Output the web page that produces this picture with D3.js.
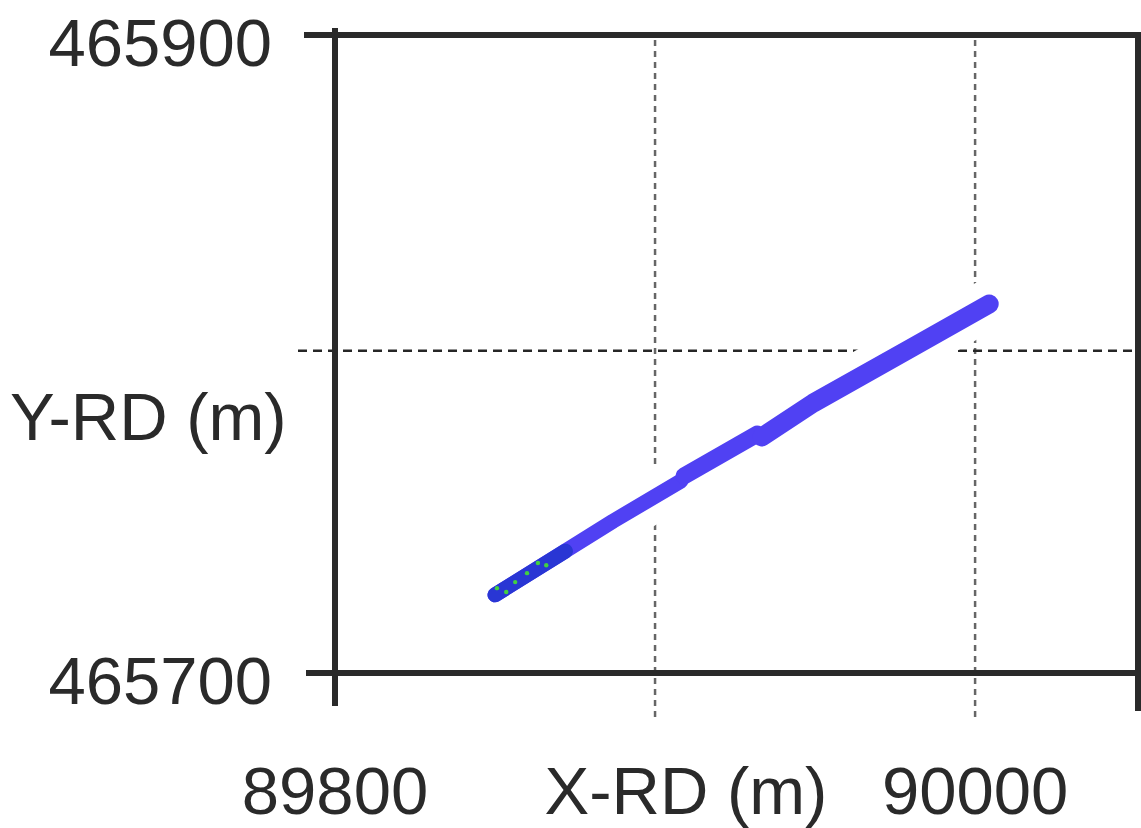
<!DOCTYPE html>
<html>
<head>
<meta charset="utf-8">
<script src="https://cdn.jsdelivr.net/npm/d3@7"></script>
<style>
  html, body { margin: 0; padding: 0; background: #fff; }
  svg { display: block; font-family: "Liberation Sans", Arial, sans-serif; }
</style>
</head>
<body>
<script>
// tick values and grid positions (m, RD coordinates)
const xTicks = [89800, 90000];
const yTicks = [465700, 465900];
const xGrid = [89900, 90000];
const yGrid = [465801];

const track = [
  [[89850.0, 465724.5], [89886.9, 465747.6], [89908.1, 465760.2]],
  [[89909.1, 465761.8], [89931.9, 465774.9]],
  [[89933.4, 465774.0], [89949.4, 465784.6], [89980.6, 465802.2], [90004.4, 465815.7]]
];
// darker start of the track and green specks in it
const trackStart = [[89850.0, 465724.5], [89872.0, 465738.2]];
const specks = [[89850.6, 465726.6], [89853.5, 465725.4], [89856.3, 465728.5],
                [89860.0, 465731.3], [89863.4, 465734.5], [89866.0, 465733.8]];

const width = 1141, height = 828;
const ink = "#2a2a2a";

const x = d3.scaleLinear().domain([89800, 90050.9]).range([335, 1138]);
const y = d3.scaleLinear().domain([465700, 465900]).range([673, 35]);

const svg = d3.select("body").append("svg")
    .attr("width", width)
    .attr("height", height);

// grid
svg.append("g")
    .attr("stroke", "#666")
    .attr("stroke-width", 2.5)
    .attr("stroke-dasharray", "6,5")
  .selectAll("line")
  .data(xGrid)
  .join("line")
    .attr("x1", d => x(d)).attr("x2", d => x(d))
    .attr("y1", y.range()[1] + 5).attr("y2", y.range()[0] + 47);

svg.append("g")
    .attr("stroke", "#262626")
    .attr("stroke-width", 2.5)
    .attr("stroke-dasharray", "9,6")
  .selectAll("line")
  .data(yGrid)
  .join("line")
    .attr("x1", x.range()[0] - 37).attr("x2", x.range()[1] - 5)
    .attr("y1", d => y(d)).attr("y2", d => y(d));

const line = d3.line().x(d => x(d[0])).y(d => y(d[1]));
const widths = [15, 17, 19];

// white halo round the track (the raster hides the grid there)
svg.append("g")
  .selectAll("path")
  .data(track)
  .join("path")
    .attr("d", line)
    .attr("fill", "none")
    .attr("stroke", "#fff")
    .attr("stroke-width", 50)
    .attr("stroke-linecap", "round");

svg.append("g")
  .selectAll("path")
  .data(track)
  .join("path")
    .attr("d", line)
    .attr("fill", "none")
    .attr("stroke", "#5041f3")
    .attr("stroke-width", (d, i) => widths[i])
    .attr("stroke-linecap", "round")
    .attr("stroke-linejoin", "round");

svg.append("path")
    .attr("d", line(trackStart))
    .attr("fill", "none")
    .attr("stroke", "#2936d4")
    .attr("stroke-width", 15)
    .attr("stroke-linecap", "round");

svg.append("g")
    .attr("fill", "#42d040")
  .selectAll("circle")
  .data(specks)
  .join("circle")
    .attr("cx", d => x(d[0]))
    .attr("cy", d => y(d[1]))
    .attr("r", 2.2);

// frame with outward ticks
const [x0, x1] = x.range();
const [yb, yt] = y.range();
const frame = svg.append("g")
    .attr("stroke", ink)
    .attr("stroke-width", 6)
    .attr("stroke-linecap", "butt");
frame.append("line").attr("x1", x0).attr("x2", x0).attr("y1", yt - 7).attr("y2", yb + 33);
frame.append("line").attr("x1", x1).attr("x2", x1).attr("y1", yt).attr("y2", yb + 38);
frame.append("line").attr("x1", x0 - 31).attr("x2", width).attr("y1", yt).attr("y2", yt);
frame.append("line").attr("x1", x0 - 29).attr("x2", x1).attr("y1", yb).attr("y2", yb);

// tick labels
svg.append("g")
    .attr("fill", ink)
    .attr("font-size", 67)
    .attr("text-anchor", "end")
  .selectAll("text")
  .data(yTicks)
  .join("text")
    .attr("x", 272)
    .attr("y", d => y(d) + 31)
    .text(d => d);

svg.append("g")
    .attr("fill", ink)
    .attr("font-size", 67)
    .attr("text-anchor", "middle")
  .selectAll("text")
  .data(xTicks)
  .join("text")
    .attr("x", d => x(d))
    .attr("y", 814)
    .text(d => d);

// axis titles
svg.append("text")
    .attr("fill", ink)
    .attr("font-size", 67)
    .attr("text-anchor", "middle")
    .attr("x", 686)
    .attr("y", 814)
    .text("X-RD (m)");

svg.append("text")
    .attr("fill", ink)
    .attr("font-size", 67)
    .attr("x", 10)
    .attr("y", 440)
    .text("Y-RD (m)");
</script>
</body>
</html>
